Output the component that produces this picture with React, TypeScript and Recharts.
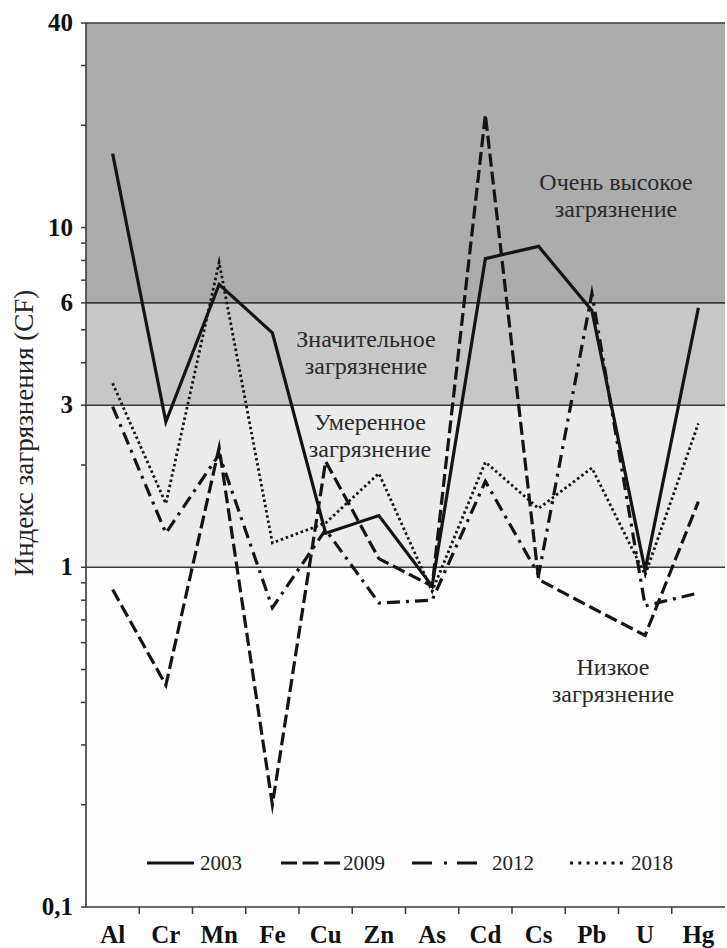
import { LineChart, Line, XAxis, YAxis, ReferenceArea, ReferenceLine, Legend } from "recharts";

// contamination factor (CF) by element
const elements = ["Al", "Cr", "Mn", "Fe", "Cu", "Zn", "As", "Cd", "Cs", "Pb", "U", "Hg"];
const cf2003 = [16.5, 2.68, 6.8, 4.9, 1.26, 1.42, 0.88, 8.1, 8.8, 5.7, 0.98, 5.8];
const cf2009 = [0.86, 0.45, 2.25, 0.2, 2.05, 1.06, 0.88, 21.5, 0.92, 0.76, 0.63, 1.56];
const cf2012 = [2.97, 1.26, 2.15, 0.76, 1.29, 0.785, 0.8, 1.79, 0.95, 6.4, 0.77, 0.84];
const cf2018 = [3.48, 1.54, 7.9, 1.18, 1.35, 1.89, 0.85, 2.04, 1.49, 1.96, 0.95, 2.65];
const years = ["2003", "2009", "2012", "2018"];

const yTicks = [0.1, 0.2, 0.3, 0.4, 0.5, 0.6, 0.7, 0.8, 0.9, 1, 2, 3, 4, 5, 6, 7, 8, 9, 10, 20, 30, 40];
const yTickLabels = [0.1, 1, 3, 6, 10, 40];
const zoneBounds = [0.1, 1, 3, 6, 40];
const zoneNames = [
  ["Низкое", "загрязнение"],
  ["Умеренное", "загрязнение"],
  ["Значительное", "загрязнение"],
  ["Очень высокое", "загрязнение"],
];
const yTitle = "Индекс загрязнения (CF)";

const data = elements.map((el, i) => ({
  idx: i,
  el,
  y2003: cf2003[i],
  y2009: cf2009[i],
  y2012: cf2012[i],
  y2018: cf2018[i],
}));
const xTicks = elements.map((_, i) => i);

// styling
const FONT = '"Liberation Serif", "Times New Roman", Times, serif';
const INK = "#141414";
const AXIS = "#3a3a3a";
const W = 727;
const H = 948;
const PLOT_LEFT = 86;
const PLOT_RIGHT = 725;
const BAND = (PLOT_RIGHT - PLOT_LEFT) / elements.length;
const zoneFills = ["#fdfdfd", "#ebebeb", "#c7c7c7", "#acacad"];
const zoneText = [
  { x: 613, y: 668 },
  { x: 370, y: 423 },
  { x: 366, y: 340 },
  { x: 616, y: 183 },
];
const seriesStyle = [
  { dash: undefined, legendDash: undefined, width: 3.2 },
  { dash: "13 5", legendDash: "16 5.5", width: 3.2 },
  { dash: "13 6 3 6", legendDash: "20 12 3 10", width: 3.2 },
  { dash: "2.5 2.8", legendDash: "3 5.3", width: 2.8 },
];
const legendLine = [
  { x: 7, len: 47 },
  { x: 141, len: 59 },
  { x: 272, len: 65 },
  { x: 430, len: 58 },
];
const legendTextX = [60, 203, 352, 491];

function renderYTick(props: any) {
  const { x, y, payload } = props;
  if (!yTickLabels.includes(payload.value)) return <g />;
  const label = String(payload.value).replace(".", ",");
  return (
    <text x={x} y={y} dy={8} textAnchor="end" style={{ fontFamily: FONT }} fontWeight="bold" fontSize={25} fill="#111">
      {label}
    </text>
  );
}

function renderXTick(props: any) {
  const { x, y, payload } = props;
  const idx = Number(payload.value);
  const axisY = y - 9;
  return (
    <g>
      <text x={x} y={axisY + 36} textAnchor="middle" style={{ fontFamily: FONT }} fontWeight="bold" fontSize={25} fill="#111">
        {elements[idx]}
      </text>
      {idx < elements.length - 1 && (
        <line x1={x + BAND / 2} x2={x + BAND / 2} y1={axisY} y2={axisY + 7} stroke={AXIS} strokeWidth={1.5} />
      )}
    </g>
  );
}

function LegendKey(props: any) {
  const payload = props.payload || [];
  return (
    <svg width={560} height={26} style={{ display: "block" }}>
      {payload.map((entry: any) => {
        const i = years.indexOf(String(entry.value));
        if (i < 0) return null;
        return (
          <g key={entry.value}>
            <line
              x1={legendLine[i].x}
              x2={legendLine[i].x + legendLine[i].len}
              y1={13}
              y2={13}
              stroke={INK}
              strokeWidth={3.2}
              strokeDasharray={seriesStyle[i].legendDash}
            />
            <text x={legendTextX[i]} y={20} style={{ fontFamily: FONT }} fontSize={21} fill="#222">
              {entry.value}
            </text>
          </g>
        );
      })}
    </svg>
  );
}

function zoneLabel(i: number) {
  return () => (
    <g>
      <text textAnchor="middle" style={{ fontFamily: FONT }} fontSize={24} fill="#2a2a2a">
        {zoneNames[i].map((t, j) => (
          <tspan key={j} x={zoneText[i].x} y={zoneText[i].y + 7 + j * 27}>
            {t}
          </tspan>
        ))}
      </text>
      {i === 0 && (
        <text
          transform="translate(33, 433) rotate(-90)"
          textAnchor="middle"
          style={{ fontFamily: FONT }}
          fontSize={27}
          fill="#222"
        >
          {yTitle}
        </text>
      )}
    </g>
  );
}

export default function App() {
  return (
    <div style={{ position: "absolute", left: 0, top: 0, background: "#fff" }}>
      <LineChart width={W} height={H} data={data} margin={{ top: 23, right: W - PLOT_RIGHT, bottom: 0, left: 0 }}>
        {zoneBounds.slice(0, -1).map((lo, i) => (
          <ReferenceArea
            key={`zone-${i}`}
            y1={lo}
            y2={zoneBounds[i + 1]}
            fill={zoneFills[i]}
            fillOpacity={1}
            stroke="none"
            ifOverflow="visible"
            label={{ content: zoneLabel(i) }}
          />
        ))}
        {zoneBounds.slice(1).map((b) => (
          <ReferenceLine key={`bound-${b}`} y={b} stroke={AXIS} strokeWidth={1.6} ifOverflow="visible" />
        ))}
        <XAxis
          dataKey="idx"
          type="number"
          domain={[-0.5, elements.length - 0.5]}
          ticks={xTicks}
          height={41}
          interval={0}
          tickLine={false}
          tickSize={7}
          tickMargin={2}
          axisLine={{ stroke: AXIS, strokeWidth: 1.6 }}
          tick={renderXTick}
        />
        <YAxis
          type="number"
          scale="log"
          domain={[0.1, 40]}
          ticks={yTicks}
          interval={0}
          width={PLOT_LEFT}
          tickSize={5}
          tickMargin={8}
          tickLine={{ stroke: AXIS, strokeWidth: 1.5 }}
          axisLine={{ stroke: AXIS, strokeWidth: 1.6 }}
          tick={renderYTick}
        />
        {years.map((yr, i) => (
          <Line
            key={yr}
            dataKey={`y${yr}`}
            name={yr}
            stroke={INK}
            strokeWidth={seriesStyle[i].width}
            strokeDasharray={seriesStyle[i].dash}
            strokeMiterlimit={14}
            dot={false}
            activeDot={false}
            isAnimationActive={false}
          />
        ))}
        <Legend
          content={<LegendKey />}
          layout="horizontal"
          verticalAlign="middle"
          align="center"
          wrapperStyle={{ position: "absolute", left: 140, top: 850, width: 560, height: 26 }}
        />
      </LineChart>
    </div>
  );
}
